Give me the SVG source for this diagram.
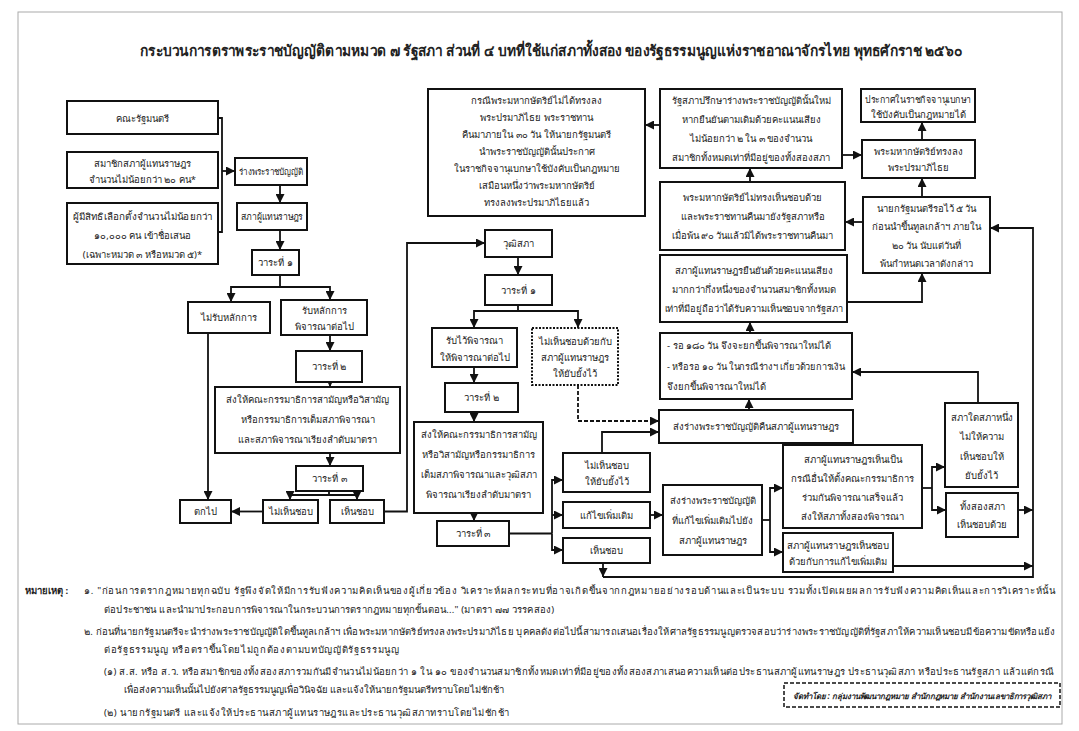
<svg xmlns="http://www.w3.org/2000/svg" width="1079" height="731" viewBox="0 0 1079 731">
<defs>
<style>
.b{fill:#fff;stroke:#111;stroke-width:2}
.d{fill:#fff;stroke:#111;stroke-width:2;stroke-dasharray:2 1.5}
.t{font-family:"Noto Sans","DejaVu Sans",sans-serif;font-size:9.5px;fill:#222;text-anchor:middle;dominant-baseline:central}
.l{text-anchor:start}
.c{fill:none;stroke:#111;stroke-width:1.8}
.cd{fill:none;stroke:#111;stroke-width:1.8;stroke-dasharray:4 2}
.n{font-family:"Noto Sans","DejaVu Sans",sans-serif;font-size:9.5px;fill:#222;dominant-baseline:central}
</style>
<marker id="a" viewBox="0 0 10 10" refX="10" refY="5" markerWidth="9" markerHeight="9" markerUnits="userSpaceOnUse" orient="auto"><path d="M0,0L10,5L0,10z" fill="#111"/></marker>
</defs>
<rect width="1079" height="731" fill="#fff"/>
<rect x="18" y="12" width="1044" height="712" fill="none" stroke="#aaa" stroke-width="1"/>
<text x="551" y="50" class="t" style="font-size:15px;font-weight:bold" textLength="822" lengthAdjust="spacingAndGlyphs">กระบวนการตราพระราชบัญญัติตามหมวด ๗ รัฐสภา ส่วนที่ ๔ บทที่ใช้แก่สภาทั้งสอง ของรัฐธรรมนูญแห่งราชอาณาจักรไทย พุทธศักราช ๒๕๖๐</text>

<g id="connectors">
<path class="c" d="M218,118H222V232H218"/>
<path class="c" d="M222,171H235" marker-end="url(#a)"/>
<path class="c" d="M280,185V203" marker-end="url(#a)"/>
<path class="c" d="M280,230V250" marker-end="url(#a)"/>
<path class="c" d="M280,275V287H231V302" marker-end="url(#a)"/>
<path class="c" d="M280,287H330V300" marker-end="url(#a)"/>
<path class="c" d="M330,335V351" marker-end="url(#a)"/>
<path class="c" d="M330,382V387" marker-end="url(#a)"/>
<path class="c" d="M330,453V466" marker-end="url(#a)"/>
<path class="c" d="M329,491V495H290V500" marker-end="url(#a)"/>
<path class="c" d="M329,495H357V500" marker-end="url(#a)"/>
<path class="c" d="M208,333V500" marker-end="url(#a)"/>
<path class="c" d="M263,511.5H231" marker-end="url(#a)"/>
<path class="c" d="M384,511.5H407V243H485" marker-end="url(#a)"/>
<path class="c" d="M518,257V275" marker-end="url(#a)"/>
<path class="c" d="M518,305V311H474V328" marker-end="url(#a)"/>
<path class="c" d="M518,311H578V328" marker-end="url(#a)"/>
<path class="c" d="M474,367V383" marker-end="url(#a)"/>
<path class="c" d="M474,412V422" marker-end="url(#a)"/>
<path class="c" d="M474,513V521" marker-end="url(#a)"/>
<path class="c" d="M509,533.5H552"/>
<path class="c" d="M552,533.5V480H563" marker-end="url(#a)"/>
<path class="c" d="M552,533.5V550H563" marker-end="url(#a)"/>
<path class="c" d="M552,515H563" marker-end="url(#a)"/>
<path class="c" d="M602,453V432H659" marker-end="url(#a)"/>
<path class="cd" d="M578,385V421H659" marker-end="url(#a)"/>
<path class="c" d="M749,410V399" marker-end="url(#a)"/>
<path class="c" d="M750,333V322" marker-end="url(#a)"/>
<path class="c" d="M847,302H922V273" marker-end="url(#a)"/>
<path class="c" d="M978,403V372H852" marker-end="url(#a)"/>
<path class="c" d="M750,182V168" marker-end="url(#a)"/>
<path class="c" d="M660,125H645" marker-end="url(#a)"/>
<path class="c" d="M842,155H862" marker-end="url(#a)"/>
<path class="c" d="M922,140V122" marker-end="url(#a)"/>
<path class="c" d="M922,197V178" marker-end="url(#a)"/>
<path class="c" d="M863,222H845" marker-end="url(#a)"/>
<path class="c" d="M603,563V577" marker-end="url(#a)"/>
<path class="c" d="M603,577H1033V228H990" marker-end="url(#a)"/>
<path class="c" d="M650,515H663" marker-end="url(#a)"/>
<path class="c" d="M762,520H770"/>
<path class="c" d="M770,520V488H783" marker-end="url(#a)"/>
<path class="c" d="M770,520V552H783" marker-end="url(#a)"/>
<path class="c" d="M922,488H932"/>
<path class="c" d="M932,488V467H945" marker-end="url(#a)"/>
<path class="c" d="M932,488V510H946" marker-end="url(#a)"/>
<path class="c" d="M1018,510H1033" marker-end="url(#a)"/>
<path class="c" d="M893,566H1033" marker-end="url(#a)"/>
</g>

<g id="n1"><rect class="b" x="67" y="101" width="151" height="33"/><text class="t" x="142.5" y="118">คณะรัฐมนตรี</text></g>
<g id="n2"><rect class="b" x="67" y="152" width="151" height="36"/><text class="t"><tspan x="142.5" y="163">สมาชิกสภาผู้แทนราษฎร</tspan><tspan x="142.5" y="179">จำนวนไม่น้อยกว่า ๒๐ คน*</tspan></text></g>
<g id="n3"><rect class="b" x="67" y="203" width="151" height="61"/><text class="t"><tspan x="142.5" y="216" textLength="140" lengthAdjust="spacingAndGlyphs">ผู้มีสิทธิเลือกตั้งจำนวนไม่น้อยกว่า</tspan><tspan x="142.5" y="235">๑๐,๐๐๐ คน เข้าชื่อเสนอ</tspan><tspan x="142.5" y="254">(เฉพาะหมวด ๓ หรือหมวด ๕)*</tspan></text></g>
<g id="n4"><rect class="b" x="235" y="158" width="72" height="27"/><text class="t" x="271" y="171.5" textLength="64" lengthAdjust="spacingAndGlyphs">ร่างพระราชบัญญัติ</text></g>
<g id="n5"><rect class="b" x="237" y="203" width="70" height="27"/><text class="t" x="272" y="216.5" textLength="62" lengthAdjust="spacingAndGlyphs">สภาผู้แทนราษฎร</text></g>
<g id="n6"><rect class="b" x="252" y="250" width="47" height="25"/><text class="t" x="275.5" y="262.5">วาระที่ ๑</text></g>
<g id="n7"><rect class="b" x="188" y="302" width="82" height="31"/><text class="t" x="229" y="317.5">ไม่รับหลักการ</text></g>
<g id="n8"><rect class="b" x="281" y="300" width="86" height="35"/><text class="t"><tspan x="324" y="310">รับหลักการ</tspan><tspan x="324" y="326">พิจารณาต่อไป</tspan></text></g>
<g id="n9"><rect class="b" x="296" y="351" width="66" height="31"/><text class="t" x="329" y="366.5">วาระที่ ๒</text></g>
<g id="n10"><rect class="b" x="215" y="387" width="185" height="66"/><text class="t"><tspan x="307.5" y="399">ส่งให้คณะกรรมาธิการสามัญหรือวิสามัญ</tspan><tspan x="307.5" y="419">หรือกรรมาธิการเต็มสภาพิจารณา</tspan><tspan x="307.5" y="439">และสภาพิจารณาเรียงลำดับมาตรา</tspan></text></g>
<g id="n11"><rect class="b" x="296" y="466" width="67" height="25"/><text class="t" x="329.5" y="478.5">วาระที่ ๓</text></g>
<g id="n12"><rect class="b" x="180" y="500" width="51" height="23"/><text class="t" x="205.5" y="511.5">ตกไป</text></g>
<g id="n13"><rect class="b" x="263" y="500" width="55" height="23"/><text class="t" x="290.5" y="511.5">ไม่เห็นชอบ</text></g>
<g id="n14"><rect class="b" x="330" y="500" width="54" height="23"/><text class="t" x="357" y="511.5">เห็นชอบ</text></g>

<g id="n15"><rect class="b" x="485" y="230" width="67" height="27"/><text class="t" x="518.5" y="243.5">วุฒิสภา</text></g>
<g id="n16"><rect class="b" x="485" y="275" width="67" height="30"/><text class="t" x="518.5" y="290">วาระที่ ๑</text></g>
<g id="n17"><rect class="b" x="432" y="328" width="85" height="39"/><text class="t"><tspan x="474.5" y="340">รับไว้พิจารณา</tspan><tspan x="474.5" y="357">ให้พิจารณาต่อไป</tspan></text></g>
<g id="n18"><rect class="d" x="532" y="328" width="86" height="57"/><text class="t"><tspan x="575" y="341">ไม่เห็นชอบด้วยกับ</tspan><tspan x="575" y="357">สภาผู้แทนราษฎร</tspan><tspan x="575" y="373">ให้ยับยั้งไว้</tspan></text></g>
<g id="n19"><rect class="b" x="445" y="383" width="73" height="29"/><text class="t" x="481.5" y="397.5">วาระที่ ๒</text></g>
<g id="n20"><rect class="b" x="414" y="422" width="129" height="91"/><text class="t"><tspan x="478.5" y="434">ส่งให้คณะกรรมาธิการสามัญ</tspan><tspan x="478.5" y="454">หรือวิสามัญหรือกรรมาธิการ</tspan><tspan x="478.5" y="474">เต็มสภาพิจารณาและวุฒิสภา</tspan><tspan x="478.5" y="494">พิจารณาเรียงลำดับมาตรา</tspan></text></g>
<g id="n21"><rect class="b" x="437" y="521" width="72" height="25"/><text class="t" x="473" y="533.5">วาระที่ ๓</text></g>
<g id="n22"><rect class="b" x="563" y="453" width="87" height="39"/><text class="t"><tspan x="606.5" y="465">ไม่เห็นชอบ</tspan><tspan x="606.5" y="481">ให้ยับยั้งไว้</tspan></text></g>
<g id="n23"><rect class="b" x="563" y="502" width="87" height="26"/><text class="t" x="606.5" y="515">แก้ไขเพิ่มเติม</text></g>
<g id="n24"><rect class="b" x="563" y="538" width="87" height="25"/><text class="t" x="606.5" y="550.5">เห็นชอบ</text></g>

<g id="n25"><rect class="b" x="659" y="410" width="194" height="33"/><text class="t" x="756" y="426.5">ส่งร่างพระราชบัญญัติคืนสภาผู้แทนราษฎร</text></g>
<g id="n26"><rect class="b" x="660" y="333" width="192" height="66"/><text class="t l"><tspan x="667" y="345">- รอ ๑๘๐ วัน จึงจะยกขึ้นพิจารณาใหม่ได้</tspan><tspan x="667" y="366" textLength="178" lengthAdjust="spacingAndGlyphs">- หรือรอ ๑๐ วัน ในกรณีร่างฯ เกี่ยวด้วยการเงิน</tspan><tspan x="667" y="386">จึงยกขึ้นพิจารณาใหม่ได้</tspan></text></g>
<g id="n27"><rect class="b" x="660" y="255" width="187" height="67"/><text class="t"><tspan x="753.5" y="270">สภาผู้แทนราษฎรยืนยันด้วยคะแนนเสียง</tspan><tspan x="753.5" y="289">มากกว่ากึ่งหนึ่งของจำนวนสมาชิกทั้งหมด</tspan><tspan x="753.5" y="308" textLength="178" lengthAdjust="spacingAndGlyphs">เท่าที่มีอยู่ถือว่าได้รับความเห็นชอบจากรัฐสภา</tspan></text></g>
<g id="n28"><rect class="b" x="660" y="182" width="185" height="68"/><text class="t"><tspan x="752.5" y="197">พระมหากษัตริย์ไม่ทรงเห็นชอบด้วย</tspan><tspan x="752.5" y="216">และพระราชทานคืนมายังรัฐสภาหรือ</tspan><tspan x="752.5" y="235">เมื่อพ้น ๙๐ วันแล้วมิได้พระราชทานคืนมา</tspan></text></g>
<g id="n29"><rect class="b" x="660" y="89" width="182" height="79"/><text class="t"><tspan x="751" y="100">รัฐสภาปรึกษาร่างพระราชบัญญัตินั้นใหม่</tspan><tspan x="751" y="119">หากยืนยันตามเดิมด้วยคะแนนเสียง</tspan><tspan x="751" y="138">ไม่น้อยกว่า ๒ ใน ๓ ของจำนวน</tspan><tspan x="751" y="157">สมาชิกทั้งหมดเท่าที่มีอยู่ของทั้งสองสภา</tspan></text></g>
<g id="n30"><rect class="b" x="861" y="89" width="114" height="33"/><text class="t"><tspan x="918" y="99" textLength="106" lengthAdjust="spacingAndGlyphs">ประกาศในราชกิจจานุเบกษา</tspan><tspan x="918" y="114">ใช้บังคับเป็นกฎหมายได้</tspan></text></g>
<g id="n31"><rect class="b" x="862" y="140" width="113" height="38"/><text class="t"><tspan x="918.5" y="151">พระมหากษัตริย์ทรงลง</tspan><tspan x="918.5" y="167">พระปรมาภิไธย</tspan></text></g>
<g id="n32"><rect class="b" x="863" y="197" width="127" height="76"/><text class="t"><tspan x="926.5" y="208">นายกรัฐมนตรีรอไว้ ๕ วัน</tspan><tspan x="926.5" y="226">ก่อนนำขึ้นทูลเกล้าฯ ภายใน</tspan><tspan x="926.5" y="245">๒๐ วัน นับแต่วันที่</tspan><tspan x="926.5" y="263">พ้นกำหนดเวลาดังกล่าว</tspan></text></g>
<g id="n33"><rect class="b" x="428" y="89" width="217" height="127"/><text class="t"><tspan x="536.5" y="100">กรณีพระมหากษัตริย์ไม่ได้ทรงลง</tspan><tspan x="536.5" y="117">พระปรมาภิไธย พระราชทาน</tspan><tspan x="536.5" y="134">คืนมาภายใน ๓๐ วัน ให้นายกรัฐมนตรี</tspan><tspan x="536.5" y="151">นำพระราชบัญญัตินั้นประกาศ</tspan><tspan x="536.5" y="168">ในราชกิจจานุเบกษาใช้บังคับเป็นกฎหมาย</tspan><tspan x="536.5" y="185">เสมือนหนึ่งว่าพระมหากษัตริย์</tspan><tspan x="536.5" y="202">ทรงลงพระปรมาภิไธยแล้ว</tspan></text></g>
<g id="n34"><rect class="b" x="663" y="485" width="99" height="70"/><text class="t"><tspan x="712.5" y="500">ส่งร่างพระราชบัญญัติ</tspan><tspan x="712.5" y="520">ที่แก้ไขเพิ่มเติมไปยัง</tspan><tspan x="712.5" y="540">สภาผู้แทนราษฎร</tspan></text></g>
<g id="n35"><rect class="b" x="783" y="445" width="139" height="83"/><text class="t"><tspan x="852.5" y="459">สภาผู้แทนราษฎรเห็นเป็น</tspan><tspan x="852.5" y="478">กรณีอื่นให้ตั้งคณะกรรมาธิการ</tspan><tspan x="852.5" y="497">ร่วมกันพิจารณาเสร็จแล้ว</tspan><tspan x="852.5" y="516">ส่งให้สภาทั้งสองพิจารณา</tspan></text></g>
<g id="n36"><rect class="b" x="783" y="533" width="110" height="39"/><text class="t"><tspan x="838" y="545" textLength="102" lengthAdjust="spacingAndGlyphs">สภาผู้แทนราษฎรเห็นชอบ</tspan><tspan x="838" y="561">ด้วยกับการแก้ไขเพิ่มเติม</tspan></text></g>
<g id="n37"><rect class="b" x="945" y="403" width="73" height="84"/><text class="t"><tspan x="981.5" y="417">สภาใดสภาหนึ่ง</tspan><tspan x="981.5" y="436">ไม่ให้ความ</tspan><tspan x="981.5" y="456">เห็นชอบให้</tspan><tspan x="981.5" y="475">ยับยั้งไว้</tspan></text></g>
<g id="n38"><rect class="b" x="946" y="493" width="72" height="44"/><text class="t"><tspan x="982" y="506">ทั้งสองสภา</tspan><tspan x="982" y="524">เห็นชอบด้วย</tspan></text></g>

<g id="notes">
<text class="n" x="25" y="590" style="font-weight:bold">หมายเหตุ :</text>
<text class="n" x="84" y="590" textLength="971" lengthAdjust="spacing">๑. "ก่อนการตรากฎหมายทุกฉบับ รัฐพึงจัดให้มีการรับฟังความคิดเห็นของผู้เกี่ยวข้อง วิเคราะห์ผลกระทบที่อาจเกิดขึ้นจากกฎหมายอย่างรอบด้านและเป็นระบบ รวมทั้งเปิดเผยผลการรับฟังความคิดเห็นและการวิเคราะห์นั้น</text>
<text class="n" x="104" y="609" textLength="450" lengthAdjust="spacing">ต่อประชาชน และนำมาประกอบการพิจารณาในกระบวนการตรากฎหมายทุกขั้นตอน..." (มาตรา ๗๗ วรรคสอง)</text>
<text class="n" x="84" y="631" textLength="971" lengthAdjust="spacing">๒. ก่อนที่นายกรัฐมนตรีจะนำร่างพระราชบัญญัติใดขึ้นทูลเกล้าฯ เพื่อพระมหากษัตริย์ทรงลงพระปรมาภิไธย บุคคลดังต่อไปนี้สามารถเสนอเรื่องให้ศาลรัฐธรรมนูญตรวจสอบว่าร่างพระราชบัญญัติที่รัฐสภาให้ความเห็นชอบมีข้อความขัดหรือแย้ง</text>
<text class="n" x="104" y="649" textLength="295" lengthAdjust="spacing">ต่อรัฐธรรมนูญ หรือตราขึ้นโดยไม่ถูกต้องตามบทบัญญัติรัฐธรรมนูญ</text>
<text class="n" x="104" y="671" textLength="950" lengthAdjust="spacing">(๑) ส.ส. หรือ ส.ว. หรือสมาชิกของทั้งสองสภารวมกันมีจำนวนไม่น้อยกว่า ๑ ใน ๑๐ ของจำนวนสมาชิกทั้งหมดเท่าที่มีอยู่ของทั้งสองสภาเสนอความเห็นต่อประธานสภาผู้แทนราษฎร ประธานวุฒิสภา หรือประธานรัฐสภา แล้วแต่กรณี</text>
<text class="n" x="124" y="689">เพื่อส่งความเห็นนั้นไปยังศาลรัฐธรรมนูญเพื่อวินิจฉัย และแจ้งให้นายกรัฐมนตรีทราบโดยไม่ชักช้า</text>
<text class="n" x="104" y="712" textLength="405" lengthAdjust="spacing">(๒) นายกรัฐมนตรี และแจ้งให้ประธานสภาผู้แทนราษฎรและประธานวุฒิสภาทราบโดยไม่ชักช้า</text>
</g>
<g id="credit"><rect x="784" y="683" width="276" height="24" fill="#fff" stroke="#111" stroke-width="1.5" stroke-dasharray="4 2"/><text class="n" x="922" y="695" style="text-anchor:middle;font-style:italic;font-weight:bold;font-size:8px" textLength="258" lengthAdjust="spacingAndGlyphs">จัดทำโดย : กลุ่มงานพัฒนากฎหมาย สำนักกฎหมาย สำนักงานเลขาธิการวุฒิสภา</text></g>
</svg>
